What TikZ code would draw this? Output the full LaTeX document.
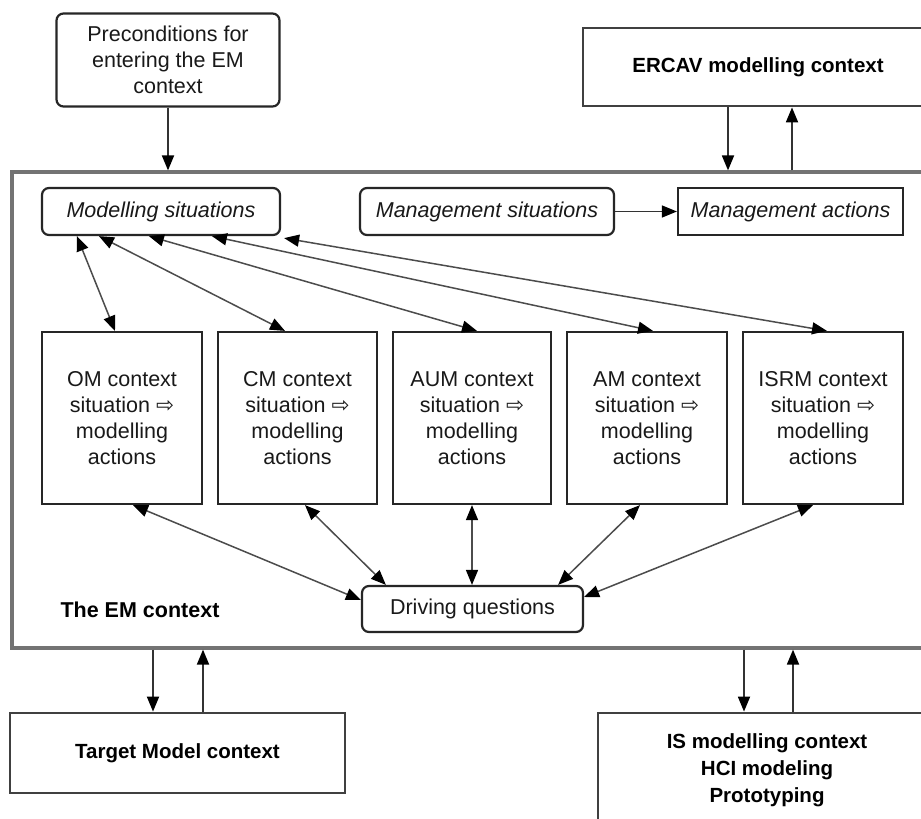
\documentclass[tikz,border=0pt]{standalone}
\usepackage{fontspec}
\setmainfont{Liberation Sans}
\newfontfamily\symfont{DejaVu Sans}
\usetikzlibrary{arrows.meta,calc}
\newcommand{\rarr}{{\symfont ⇨}}
\begin{document}
\begin{tikzpicture}[x=1pt,y=-1pt,
  txt/.style={font=\fontsize{21.5}{26}\selectfont, align=center, text=black!90},
  btxt/.style={font=\bfseries\fontsize{20.5}{27}\selectfont, align=center, text=black},
  rbox/.style={txt, draw=black!85, line width=2.2pt, rounded corners=7pt, inner sep=0pt},
  sbox/.style={txt, draw=black!85, line width=2.2pt, inner sep=0pt},
  cbox/.style={btxt, draw=black!75, line width=2.8pt, inner sep=0pt},
  arr/.style={line width=1.8pt, draw=black!80, -{Triangle[length=15pt,width=12pt,color=black]}},
  darr/.style={line width=1.5pt, draw=black!70, {Triangle[length=15pt,width=12pt,color=black]}-{Triangle[length=15pt,width=12pt,color=black]}}
]
\useasboundingbox (0,0) rectangle (921,819);
\clip (0,0) rectangle (921,819);
\fill[white] (0,0) rectangle (921,819);

% outer context boxes
\node[rbox, minimum width=223pt, minimum height=93pt] (pre) at (168,60)
  {Preconditions for\\entering the EM\\context};
\node[cbox, minimum width=347pt, minimum height=78pt] (ercav) at (756.5,67) {};
\node[btxt] (ercavt) at (758,67) {ERCAV modelling context};
\node[draw=black!55, line width=3.2pt, minimum width=918pt, minimum height=476pt, inner sep=0pt] (em) at (471,410) {};
\node[cbox, minimum width=335pt, minimum height=80pt] (tm) at (177.5,753) {Target Model context};
\node[cbox, minimum width=337pt, minimum height=117pt] (is) at (766.5,771.5) {};
\node[btxt] (ist) at (767,770) {IS modelling context\\HCI modeling\\Prototyping};

% inner boxes
\node[rbox, minimum width=238pt, minimum height=47pt, font=\itshape\fontsize{21.5}{26}\selectfont] (ms) at (161,211.5) {Modelling situations};
\node[rbox, minimum width=254pt, minimum height=47pt, font=\itshape\fontsize{21.5}{26}\selectfont] (mgs) at (487,211.5) {Management situations};
\node[sbox, minimum width=225pt, minimum height=47pt, font=\itshape\fontsize{21.5}{26}\selectfont] (mga) at (790.5,211.5) {Management actions};

\node[sbox, minimum width=160pt, minimum height=172pt] (om) at (122,418) {OM context\\situation \rarr\\modelling\\actions};
\node[sbox, minimum width=159pt, minimum height=172pt] (cm) at (297.5,418) {CM context\\situation \rarr\\modelling\\actions};
\node[sbox, minimum width=158pt, minimum height=172pt] (aum) at (472,418) {AUM context\\situation \rarr\\modelling\\actions};
\node[sbox, minimum width=160pt, minimum height=172pt] (am) at (647,418) {AM context\\situation \rarr\\modelling\\actions};
\node[sbox, minimum width=160pt, minimum height=172pt] (isrm) at (823,418) {ISRM context\\situation \rarr\\modelling\\actions};

\node[rbox, minimum width=221pt, minimum height=46pt] (dq) at (472.5,609) {Driving questions};
\node[btxt, font=\bfseries\fontsize{21.5}{26}\selectfont] (eml) at (140,610) {The EM context};

% connectors between contexts
\draw[arr] (pre.south) -- (pre.south |- em.north);
\coordinate (erA) at ([xshift=-28.5pt]ercav.south);
\coordinate (erB) at ([xshift=35.5pt]ercav.south);
\draw[arr] (erA) -- (erA |- em.north);
\draw[arr] (erB |- em.north) -- (erB);
\coordinate (tmA) at ([xshift=-24.5pt]tm.north);
\coordinate (tmB) at ([xshift=25.5pt]tm.north);
\draw[arr] (tmA |- em.south) -- (tmA);
\draw[arr] (tmB) -- (tmB |- em.south);
\coordinate (isA) at ([xshift=-22.5pt]is.north);
\coordinate (isB) at ([xshift=26.5pt]is.north);
\draw[arr] (isA |- em.south) -- (isA);
\draw[arr] (isB) -- (isB |- em.south);

\draw[arr, line width=1.4pt] (mgs.east) -- (mga.west);

% fan from modelling situations
\draw[darr] ([xshift=36pt]ms.south west) -- ([xshift=-7pt]om.north);
\draw[darr] ([xshift=58pt]ms.south west) -- ([xshift=-12.5pt]cm.north);
\draw[darr] ([xshift=108pt]ms.south west) -- ([xshift=5pt]aum.north);
\draw[darr] ([xshift=171pt]ms.south west) -- ([xshift=6pt]am.north);
\draw[darr] ([xshift=3pt,yshift=-2pt]ms.south east) -- ([xshift=4pt]isrm.north);

% to driving questions
\draw[darr] ([xshift=11pt]om.south) -- ([yshift=9pt]dq.west);
\draw[darr] ([xshift=7.5pt]cm.south) -- ([xshift=25pt]dq.north west);
\draw[darr] (aum.south) -- (aum.south |- dq.north);
\draw[darr] ([xshift=-7pt]am.south) -- ([xshift=-26pt]dq.north east);
\draw[darr] ([xshift=-10pt]isrm.south) -- ([yshift=12pt]dq.east);
\end{tikzpicture}
\end{document}
